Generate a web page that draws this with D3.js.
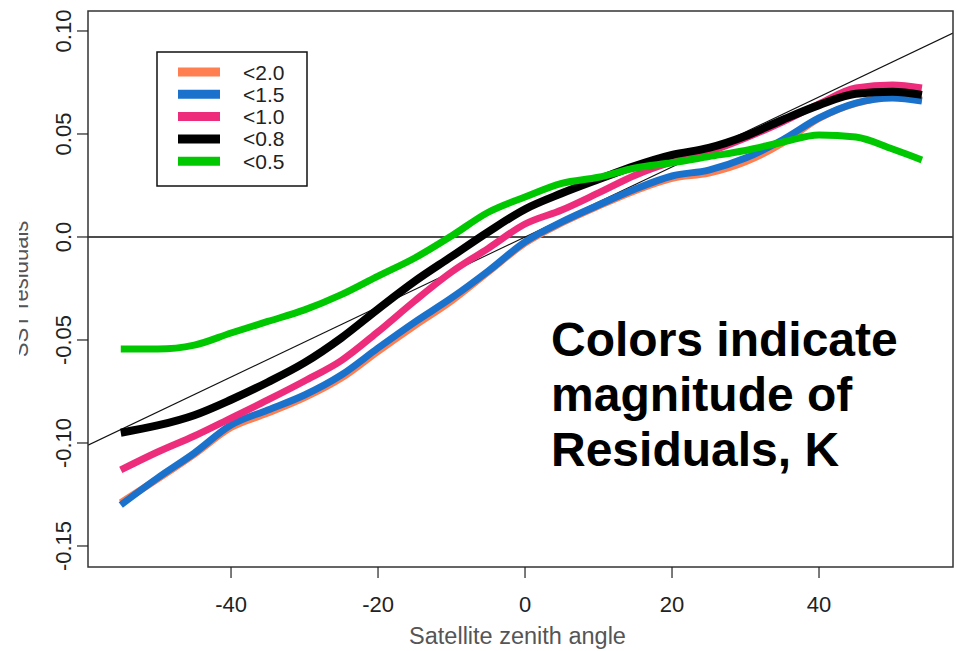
<!DOCTYPE html>
<html lang="en">
<head>
<meta charset="utf-8">
<title>SST residuals vs satellite zenith angle</title>
<script src="https://cdn.jsdelivr.net/npm/d3@7"></script>
<style>
  body { margin: 0; background: #fff; }
  svg text { font-family: "Liberation Sans", Arial, sans-serif; }
</style>
</head>
<body>
<script>
var angles = [-55, -50, -45, -40, -35, -30, -25, -20, -15, -10, -5, 0, 5, 10, 15, 20, 25, 30, 35, 40, 45, 50, 54];

// residual curves, one per threshold
var res20 = [-0.129, -0.1175, -0.1055, -0.0925, -0.0855, -0.078, -0.0685, -0.0555, -0.043, -0.031, -0.017, -0.003, 0.0068, 0.015, 0.0225, 0.0285, 0.031, 0.0365, 0.0455, 0.0575, 0.0648, 0.0678, 0.0665];
var res15 = [-0.1301, -0.117, -0.1049, -0.0913, -0.084, -0.0767, -0.067, -0.0539, -0.0413, -0.0296, -0.0165, -0.0024, 0.0073, 0.0155, 0.0233, 0.0296, 0.0325, 0.0383, 0.0471, 0.0578, 0.065, 0.0675, 0.066];
var res10 = [-0.1131, -0.1044, -0.0966, -0.0879, -0.0791, -0.0699, -0.06, -0.046, -0.031, -0.017, -0.0055, 0.0063, 0.0131, 0.0214, 0.030, 0.0364, 0.0413, 0.048, 0.0558, 0.0646, 0.0723, 0.0738, 0.0723];
var res08 = [-0.095, -0.0915, -0.0865, -0.079, -0.0705, -0.061, -0.049, -0.035, -0.0215, -0.0095, 0.0025, 0.0135, 0.0212, 0.028, 0.0345, 0.0398, 0.0432, 0.049, 0.0568, 0.064, 0.0695, 0.0705, 0.069];
var res05 = [-0.0544, -0.0544, -0.0525, -0.0466, -0.041, -0.0354, -0.028, -0.019, -0.0102, 0.0005, 0.012, 0.0194, 0.026, 0.029, 0.0335, 0.036, 0.039, 0.042, 0.046, 0.0495, 0.0485, 0.0427, 0.0374];

var seriesNames = ["<2.0", "<1.5", "<1.0", "<0.8", "<0.5"];
var seriesColors = ["#FF7F50", "#1A72CC", "#EE2C7C", "#000000", "#00C800"];
var seriesValues = [res20, res15, res10, res08, res05];

var xTicks = [-40, -20, 0, 20, 40];
var yTicks = [0.10, 0.05, 0.0, -0.05, -0.10, -0.15];
var yTickLabels = ["0.10", "0.05", "0.0", "-0.05", "-0.10", "-0.15"];

// reference line (abline)
var ablineSlope = 0.0017;
var ablineIntercept = 0;

var svgW = 958, svgH = 651;
// plot box edges (don't use "top" - it's window.top)
var boxL = 88, boxR = 953, boxT = 11, boxB = 567;

var svg = d3.select("body").append("svg")
    .attr("width", svgW)
    .attr("height", svgH);

var x = d3.scaleLinear().domain([-59.46, 58.23]).range([boxL, boxR]);
var y = d3.scaleLinear().domain([-0.1602, 0.1097]).range([boxB, boxT]);

svg.append("clipPath").attr("id", "plotclip")
  .append("rect")
    .attr("x", boxL).attr("y", boxT)
    .attr("width", boxR - boxL).attr("height", boxB - boxT);

svg.append("clipPath").attr("id", "pageclip")
  .append("rect")
    .attr("x", 19).attr("y", 0)
    .attr("width", svgW).attr("height", svgH);

var plot = svg.append("g").attr("clip-path", "url(#plotclip)");

// zero line
plot.append("line")
    .attr("x1", boxL).attr("x2", boxR)
    .attr("y1", y(0)).attr("y2", y(0))
    .attr("stroke", "#111")
    .attr("stroke-width", 1.5);

// diagonal reference
var xd = x.domain();
plot.append("line")
    .attr("x1", x(xd[0])).attr("y1", y(ablineIntercept + ablineSlope * xd[0]))
    .attr("x2", x(xd[1])).attr("y2", y(ablineIntercept + ablineSlope * xd[1]))
    .attr("stroke", "#111")
    .attr("stroke-width", 1.1);

var line = d3.line()
    .x(function(d) { return x(d[0]); })
    .y(function(d) { return y(d[1]); })
    .curve(d3.curveMonotoneX);

seriesValues.forEach(function(vals, i) {
    var pts = angles.map(function(a, j) { return [a, vals[j]]; });
    plot.append("path")
        .datum(pts)
        .attr("fill", "none")
        .attr("stroke", seriesColors[i])
        .attr("stroke-width", i == 3 ? 8 : 7)
        .attr("d", line);
});

// plot box
svg.append("rect")
    .attr("x", boxL).attr("y", boxT)
    .attr("width", boxR - boxL).attr("height", boxB - boxT)
    .attr("fill", "none")
    .attr("stroke", "#333")
    .attr("stroke-width", 1.5);

// x axis
var xg = svg.append("g");
xTicks.forEach(function(t) {
    xg.append("line")
        .attr("x1", x(t)).attr("x2", x(t))
        .attr("y1", boxB).attr("y2", boxB + 11)
        .attr("stroke", "#222").attr("stroke-width", 1.2);
    xg.append("text")
        .attr("x", x(t)).attr("y", 612)
        .attr("text-anchor", "middle")
        .attr("font-size", 22)
        .attr("fill", "#222")
        .text(t);
});

// y axis
var yg = svg.append("g");
yTicks.forEach(function(t, i) {
    yg.append("line")
        .attr("x1", boxL - 11).attr("x2", boxL)
        .attr("y1", y(t)).attr("y2", y(t))
        .attr("stroke", "#222").attr("stroke-width", 1.2);
    yg.append("text")
        .attr("transform", "translate(71," + y(t) + ") rotate(-90)")
        .attr("text-anchor", "middle")
        .attr("font-size", 22)
        .attr("fill", "#222")
        .text(yTickLabels[i]);
});

// axis titles
svg.append("text")
    .attr("x", (boxL + boxR) / 2 - 3).attr("y", 644)
    .attr("text-anchor", "middle")
    .attr("font-size", 23.5)
    .attr("fill", "#555")
    .text("Satellite zenith angle");

svg.append("g").attr("clip-path", "url(#pageclip)")
  .append("text")
    .attr("transform", "translate(28," + ((boxT + boxB) / 2) + ") rotate(-90)")
    .attr("text-anchor", "middle")
    .attr("font-size", 22)
    .attr("fill", "#555")
    .text("SST residuals");

// legend
var lg = svg.append("g");
lg.append("rect")
    .attr("x", 157).attr("y", 52)
    .attr("width", 150).attr("height", 134)
    .attr("fill", "#fff")
    .attr("stroke", "#111")
    .attr("stroke-width", 1.5);
seriesNames.forEach(function(n, i) {
    var yy = 72 + i * 22.3;
    lg.append("line")
        .attr("x1", 178).attr("x2", 220)
        .attr("y1", yy).attr("y2", yy)
        .attr("stroke", seriesColors[i])
        .attr("stroke-width", 9);
    lg.append("text")
        .attr("x", 243).attr("y", yy + 7.5)
        .attr("font-size", 21)
        .attr("fill", "#222")
        .text(n);
});

// annotation
var note = ["Colors indicate", "magnitude of", "Residuals, K"];
svg.append("text")
    .attr("font-size", 48)
    .attr("font-weight", "bold")
    .attr("fill", "#000")
    .selectAll("tspan")
    .data(note)
    .enter().append("tspan")
    .attr("x", 551)
    .attr("y", function(d, i) { return 356 + i * 55; })
    .text(function(d) { return d; });
</script>
</body>
</html>
